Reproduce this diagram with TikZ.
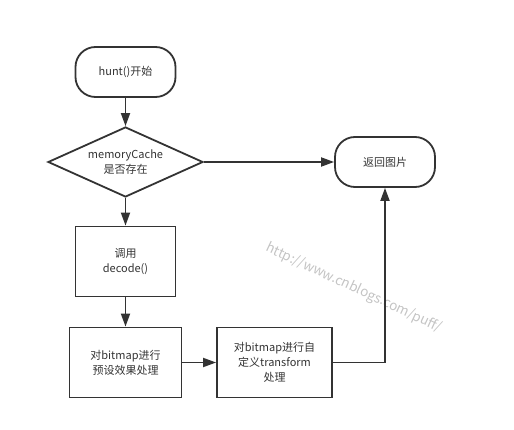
\documentclass[tikz,border=0pt]{standalone}
\usepackage{fontspec}
\setmainfont{Noto Sans CJK SC}
\usepackage{xcolor}
\usepackage{tikz}
\usetikzlibrary{positioning, shapes, arrows.meta}

\definecolor{inkgray}{HTML}{333333}
\definecolor{markgray}{HTML}{C4C4C4}

\tikzset{
  flowbox/.style={draw=inkgray, line width=1.8pt, text=inkgray, align=center,
    minimum width=100pt, minimum height=70pt, inner sep=2pt},
  termbox/.style={flowbox, rounded corners=20pt, minimum height=50pt},
  checkbox/.style={diamond, draw=inkgray, line width=1.8pt, text=inkgray, align=center,
    aspect=2.2, inner sep=0pt, minimum width=155pt, minimum height=70pt},
  flowarrow/.style={draw=inkgray, line width=1.8pt, -{Triangle[length=13pt, width=9pt]}}
}

\begin{document}
\begin{tikzpicture}[x=1pt, y=-1pt, font=\fontsize{11}{15}\selectfont]
  \useasboundingbox (0, 0) rectangle (514, 430);

  % flow nodes
  \node[termbox] (start) at (125.5, 72) {hunt()开始};
  \node[checkbox] (check) at (125.5, 162) {memoryCache\\是否存在};
  \node[termbox] (ret) at (385, 162) {返回图片};
  \node[flowbox] (decode) at (125.5, 261.5) {调用\\decode()};
  \node[flowbox, minimum width=112pt] (preset) at (125.5, 362.5) {对bitmap进行\\预设效果处理};
  \node[flowbox, minimum width=115pt] (custom) at (274.5, 362.5) {对bitmap进行自\\定义transform\\处理};

  % watermark
  \node[text=markgray, rotate=-25, font=\fontsize{13.5}{14}\selectfont] (mark) at (354, 288) {http://www.cnblogs.com/puff/};

  % connectors
  \draw[flowarrow] (start) -- (check);
  \draw[flowarrow] (check) -- (ret);
  \draw[flowarrow] (check) -- (decode);
  \draw[flowarrow] (decode) -- (preset);
  \draw[flowarrow] (preset) -- (custom);
  \draw[flowarrow] (custom) -| (ret);
\end{tikzpicture}
\end{document}
